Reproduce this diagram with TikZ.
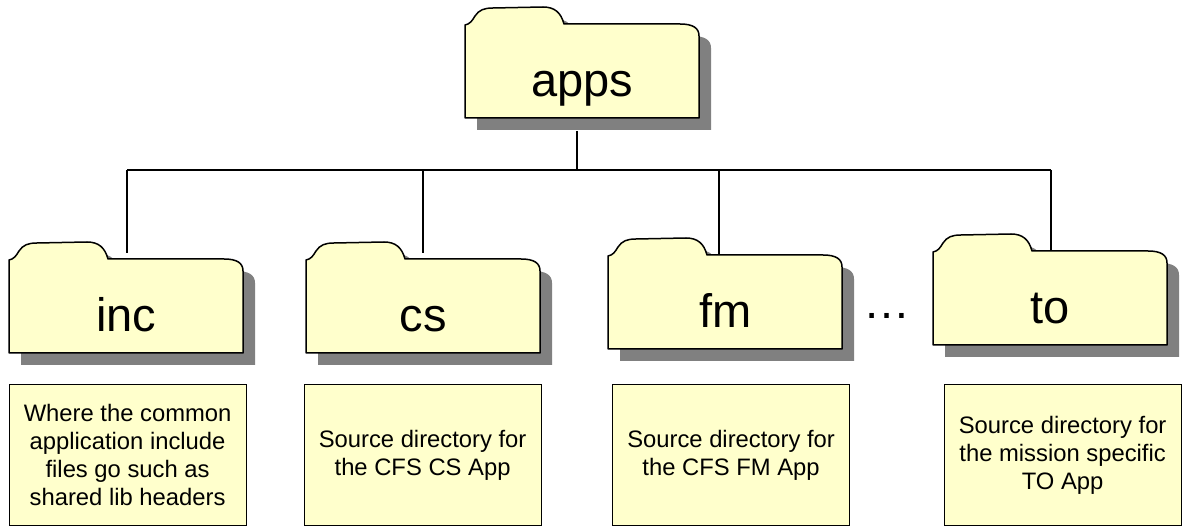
\documentclass[tikz,border=0pt]{standalone}
\usepackage{fontspec}
\setmainfont{Liberation Sans}
\definecolor{paper}{HTML}{FFFFCC}
\definecolor{shade}{HTML}{808080}
\tikzset{
  folderline/.style={draw=black,line width=1.5pt,fill=paper,line join=round},
  foldershadow/.style={fill=shade,draw=none},
  foldertext/.style={inner sep=0pt,minimum width=234pt,text height=72pt,text depth=23pt,
    font=\fontsize{47}{47}\selectfont},
  notebox/.style={draw=black,line width=1.2pt,fill=paper,inner sep=0pt,minimum width=237pt,
    minimum height=141pt,align=center,font=\fontsize{23.8}{28}\selectfont},
  wire/.style={draw=black,line width=1.2pt}
}
\newcommand{\folderpath}{(0,18) .. controls (5,17) and (7,14) .. (10,9) .. controls (14,3) and (19,1) .. (28,1)
  -- (78,0) .. controls (90,0) and (96,6) .. (99,17) -- (215,17) .. controls (228,17) and (234,21) .. (234,29)
  -- (234,111) -- (0,111) -- cycle}
\newcommand{\folderat}[4]{%
  \begin{scope}[shift={(#2+12,#3+12)}]\path[foldershadow] \folderpath;\end{scope}
  \begin{scope}[shift={(#2,#3)}]
    \path[folderline] \folderpath;
    \node[foldertext,anchor=north west] (#1) at (0,17) {#4};
  \end{scope}}
\begin{document}
\begin{tikzpicture}[x=1pt,y=-1pt]
\useasboundingbox (0,0) rectangle (1183,526);
\coordinate (bustop) at (577,170);
\coordinate (businc) at (127,170);
\coordinate (buscs) at (423,170);
\coordinate (busfm) at (719,170);
\coordinate (busto) at (1051,170);
\coordinate (appsdrop) at (577,131);
\draw[wire] (businc) -- (busto);
\draw[wire] (appsdrop) -- (bustop);
\folderat{apps}{465}{7}{apps}
\draw[wire] (businc) -- ++(0,83);
\draw[wire] (buscs) -- ++(0,83);
\folderat{inc}{9}{242}{inc}
\folderat{cs}{306}{242}{cs}
\folderat{fm}{608}{238}{fm}
\folderat{to}{933}{234}{to}
\draw[wire] (busfm) -- (busfm |- fm.north);
\draw[wire] (busto) -- (busto |- to.north);
\node[font=\fontsize{47}{47}\selectfont,inner sep=0pt,anchor=base] (gap) at (887,319) {…};
\node[notebox,anchor=north west] (incnote) at (8.5,384) {Where the common\\application include\\files go such as\\shared lib headers};
\node[notebox,anchor=north west] (csnote) at (303.5,384) {Source directory for\\the CFS CS App};
\node[notebox,anchor=north west] (fmnote) at (612,384) {Source directory for\\the CFS FM App};
\node[notebox,anchor=north west] (tonote) at (943.5,384) {Source directory for\\the mission specific\\TO App};
\end{tikzpicture}
\end{document}
